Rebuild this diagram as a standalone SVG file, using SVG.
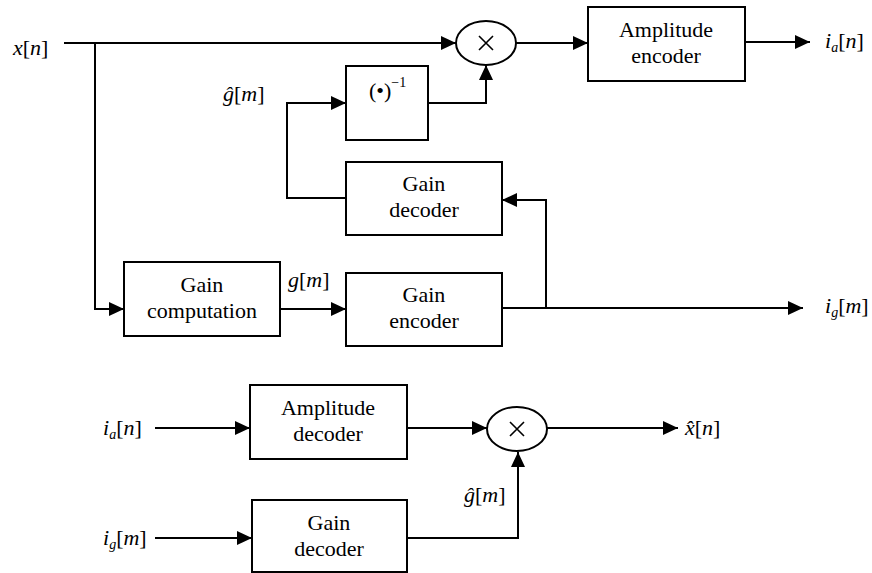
<svg xmlns="http://www.w3.org/2000/svg" width="872" height="573" viewBox="0 0 872 573">
  <defs>
    <marker id="arr" markerUnits="userSpaceOnUse" markerWidth="16" markerHeight="15" refX="15" refY="7" orient="auto">
      <path d="M0,0 L15,7 L0,14 Z" fill="#000"/>
    </marker>
  </defs>
  <rect width="872" height="573" fill="#fff"/>

  <!-- connectors -->
  <g id="connectors" fill="none" stroke="#000" stroke-width="2" marker-end="url(#arr)">
    <!-- encoder side -->
    <path d="M64,43 H456"/>
    <path d="M95,43 V309 H124"/>
    <path d="M280,309 H346"/>
    <path d="M502,308 H803"/>
    <path d="M546,308 V200 H502"/>
    <path d="M346,198 H287 V103 H346"/>
    <path d="M428,103 H486 V65"/>
    <path d="M516,43 H588"/>
    <path d="M745,42 H810"/>
    <!-- decoder side -->
    <path d="M155,428 H250"/>
    <path d="M407,428 H487"/>
    <path d="M547,428 H678"/>
    <path d="M155,538 H252"/>
    <path d="M407,538 H518 V452"/>
  </g>

  <!-- encoder nodes -->
  <g id="mult-enc" stroke="#000" fill="#fff">
    <ellipse cx="486" cy="43" rx="30" ry="22" stroke-width="2"/>
    <path d="M479,36 L493,50 M493,36 L479,50" stroke-width="1.6" fill="none"/>
  </g>
  <g id="amp-encoder">
    <rect x="588" y="7" width="157" height="74" fill="#fff" stroke="#000" stroke-width="2"/>
    <text x="666" y="37" text-anchor="middle" font-family="Times New Roman" font-size="22">Amplitude</text>
    <text x="666" y="63" text-anchor="middle" font-family="Times New Roman" font-size="22">encoder</text>
  </g>
  <g id="inverse">
    <rect x="346" y="66" width="82" height="74" fill="#fff" stroke="#000" stroke-width="2"/>
    <text x="369" y="98" font-family="Times New Roman" font-size="22">(&#x2022;)<tspan dy="-11" font-size="14">&#x2212;1</tspan></text>
  </g>
  <g id="gain-decoder-enc">
    <rect x="346" y="162" width="156" height="73" fill="#fff" stroke="#000" stroke-width="2"/>
    <text x="424" y="191" text-anchor="middle" font-family="Times New Roman" font-size="22">Gain</text>
    <text x="424" y="217" text-anchor="middle" font-family="Times New Roman" font-size="22">decoder</text>
  </g>
  <g id="gain-computation">
    <rect x="124" y="262" width="156" height="74" fill="#fff" stroke="#000" stroke-width="2"/>
    <text x="202" y="292" text-anchor="middle" font-family="Times New Roman" font-size="22">Gain</text>
    <text x="202" y="318" text-anchor="middle" font-family="Times New Roman" font-size="22">computation</text>
  </g>
  <g id="gain-encoder">
    <rect x="346" y="273" width="156" height="73" fill="#fff" stroke="#000" stroke-width="2"/>
    <text x="424" y="302" text-anchor="middle" font-family="Times New Roman" font-size="22">Gain</text>
    <text x="424" y="328" text-anchor="middle" font-family="Times New Roman" font-size="22">encoder</text>
  </g>

  <!-- decoder nodes -->
  <g id="amp-decoder">
    <rect x="250" y="385" width="157" height="74" fill="#fff" stroke="#000" stroke-width="2"/>
    <text x="328" y="415" text-anchor="middle" font-family="Times New Roman" font-size="22">Amplitude</text>
    <text x="328" y="441" text-anchor="middle" font-family="Times New Roman" font-size="22">decoder</text>
  </g>
  <g id="gain-decoder-dec">
    <rect x="252" y="500" width="155" height="72" fill="#fff" stroke="#000" stroke-width="2"/>
    <text x="329" y="530" text-anchor="middle" font-family="Times New Roman" font-size="22">Gain</text>
    <text x="329" y="556" text-anchor="middle" font-family="Times New Roman" font-size="22">decoder</text>
  </g>
  <g id="mult-dec" stroke="#000" fill="#fff">
    <ellipse cx="517" cy="429" rx="30" ry="22" stroke-width="2"/>
    <path d="M510,422 L524,436 M524,422 L510,436" stroke-width="1.6" fill="none"/>
  </g>

  <!-- signal labels -->
  <g id="labels">
    <text x="13" y="55" font-family="Times New Roman" font-size="22"><tspan font-style="italic">x</tspan>[<tspan font-style="italic">n</tspan>]</text>
    <text x="223" y="101" font-family="Times New Roman" font-size="22"><tspan font-style="italic">&#x11D;</tspan>[<tspan font-style="italic">m</tspan>]</text>
    <text x="288" y="287" font-family="Times New Roman" font-size="22"><tspan font-style="italic">g</tspan>[<tspan font-style="italic">m</tspan>]</text>
    <text x="825" y="48" font-family="Times New Roman" font-size="22"><tspan font-style="italic">i</tspan><tspan dy="4" font-style="italic" font-size="14">a</tspan><tspan dy="-4">[</tspan><tspan font-style="italic">n</tspan>]</text>
    <text x="825" y="313" font-family="Times New Roman" font-size="22"><tspan font-style="italic">i</tspan><tspan dy="4" font-style="italic" font-size="14">g</tspan><tspan dy="-4">[</tspan><tspan font-style="italic">m</tspan>]</text>
    <text x="103" y="435" font-family="Times New Roman" font-size="22"><tspan font-style="italic">i</tspan><tspan dy="4" font-style="italic" font-size="14">a</tspan><tspan dy="-4">[</tspan><tspan font-style="italic">n</tspan>]</text>
    <text x="103" y="545" font-family="Times New Roman" font-size="22"><tspan font-style="italic">i</tspan><tspan dy="4" font-style="italic" font-size="14">g</tspan><tspan dy="-4">[</tspan><tspan font-style="italic">m</tspan>]</text>
    <text x="464" y="502" font-family="Times New Roman" font-size="22"><tspan font-style="italic">&#x11D;</tspan>[<tspan font-style="italic">m</tspan>]</text>
    <text x="685" y="435" font-family="Times New Roman" font-size="22"><tspan font-style="italic">x&#x302;</tspan>[<tspan font-style="italic">n</tspan>]</text>
  </g>
</svg>
